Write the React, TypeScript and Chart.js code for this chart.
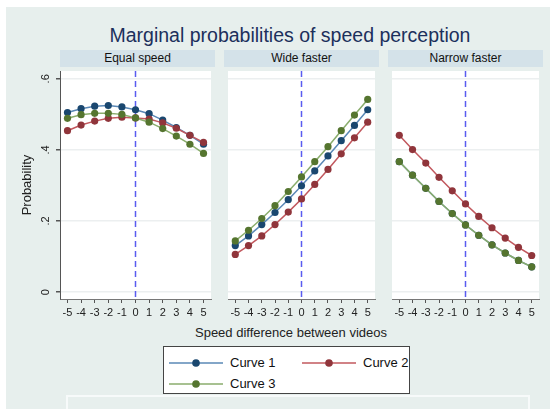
import React, { useEffect, useRef } from "react";
import { Chart, registerables } from "chart.js";

Chart.register(...registerables);

// ---------------- data ----------------
const xValues = [-5, -4, -3, -2, -1, 0, 1, 2, 3, 4, 5];
const xTickLabels = ["-5", "-4", "-3", "-2", "-1", "0", "1", "2", "3", "4", "5"];
const yTickValues = [0, 0.2, 0.4, 0.6];
const yTickLabels = ["0", ".2", ".4", ".6"];
const panelTitles = ["Equal speed", "Wide faster", "Narrow faster"];
const seriesNames = ["Curve 1", "Curve 2", "Curve 3"];

const equalCurve1 = [0.505, 0.516, 0.523, 0.525, 0.521, 0.513, 0.502, 0.484, 0.463, 0.441, 0.416];
const equalCurve2 = [0.454, 0.47, 0.481, 0.489, 0.492, 0.49, 0.487, 0.476, 0.461, 0.441, 0.421];
const equalCurve3 = [0.489, 0.499, 0.503, 0.503, 0.5, 0.49, 0.478, 0.46, 0.439, 0.416, 0.39];

const wideCurve1 = [0.131, 0.158, 0.19, 0.224, 0.26, 0.299, 0.341, 0.383, 0.426, 0.469, 0.513];
const wideCurve2 = [0.106, 0.131, 0.158, 0.19, 0.225, 0.262, 0.303, 0.345, 0.389, 0.434, 0.478];
const wideCurve3 = [0.144, 0.174, 0.207, 0.243, 0.283, 0.324, 0.367, 0.409, 0.454, 0.498, 0.542];

const narrowCurve1 = [0.367, 0.329, 0.292, 0.255, 0.221, 0.189, 0.16, 0.133, 0.11, 0.089, 0.071];
const narrowCurve2 = [0.441, 0.401, 0.363, 0.323, 0.285, 0.248, 0.213, 0.181, 0.152, 0.126, 0.103];
const narrowCurve3 = [0.367, 0.329, 0.292, 0.255, 0.221, 0.189, 0.16, 0.133, 0.11, 0.089, 0.071];

const panelSeries = [
  [equalCurve1, equalCurve2, equalCurve3],
  [wideCurve1, wideCurve2, wideCurve3],
  [narrowCurve1, narrowCurve2, narrowCurve3],
];

// ---------------- styles ----------------
const FONT = '"Liberation Sans", Arial, Helvetica, sans-serif';
const BG = "#e7efed";
const HEADER_BG = "#d4e2e9";
const markerColors = ["#1a476f", "#90353b", "#55752f"];
const lineColors = ["#5a88b6", "#c2585e", "#8aad6c"];
const REF_LINE = "#5a5cf0";

const PLOT_TOP = 67;
const PLOT_BOTTOM = 299;
const PLOT_W = 155;
const XAXIS_H = 24;
const panelLefts = [60, 224, 388];
const X_MIN = -5.55;
const X_MAX = 5.55;
const Y_MIN = -0.0194;
const Y_MAX = 0.622;

const zeroPadding = (s: any) => {
  s.paddingTop = 0;
  s.paddingBottom = 0;
  s.paddingLeft = 0;
  s.paddingRight = 0;
};

const panelPlugin = {
  id: "panelDecor",
  beforeDraw(chart: any) {
    const { ctx, chartArea } = chart;
    ctx.save();
    ctx.fillStyle = "#ffffff";
    ctx.fillRect(chartArea.left, chartArea.top, chartArea.right - chartArea.left, chartArea.bottom - chartArea.top);
    ctx.restore();
  },
  beforeDatasetsDraw(chart: any) {
    const { ctx, chartArea, scales } = chart;
    const x = scales.x.getPixelForValue(0);
    ctx.save();
    ctx.strokeStyle = REF_LINE;
    ctx.lineWidth = 1.5;
    ctx.setLineDash([6, 4]);
    ctx.beginPath();
    ctx.moveTo(x, chartArea.top);
    ctx.lineTo(x, chartArea.bottom);
    ctx.stroke();
    ctx.restore();
  },
};

function Panel({ index }: { index: number }) {
  const ref = useRef<HTMLCanvasElement | null>(null);
  const showY = index === 0;
  const plotLeft = panelLefts[index];
  const canvasLeft = showY ? 0 : plotLeft;
  const canvasWidth = showY ? plotLeft + PLOT_W : PLOT_W;
  const canvasHeight = PLOT_BOTTOM - PLOT_TOP + XAXIS_H;

  useEffect(() => {
    if (!ref.current) return;
    const series = panelSeries[index];
    const chart = new Chart(ref.current, {
      type: "line",
      data: {
        datasets: series.map((vals, i) => ({
          label: seriesNames[i],
          data: xValues.map((x, j) => ({ x, y: vals[j] })),
          borderColor: lineColors[i],
          backgroundColor: markerColors[i],
          borderWidth: 1.5,
          pointRadius: 3.6,
          pointBackgroundColor: markerColors[i],
          pointBorderColor: markerColors[i],
          pointBorderWidth: 0,
          tension: 0,
          fill: false,
          clip: false,
          order: 2 - i,
        })),
      },
      options: {
        animation: false,
        responsive: false,
        devicePixelRatio: 1,
        layout: { padding: 0 },
        plugins: {
          legend: { display: false },
          tooltip: { enabled: false },
          title: { display: false },
        },
        scales: {
          x: {
            type: "linear",
            min: X_MIN,
            max: X_MAX,
            afterBuildTicks: (s: any) => {
              s.ticks = xValues.map((v) => ({ value: v }));
            },
            afterFit: (s: any) => {
              s.height = XAXIS_H;
              zeroPadding(s);
            },
            ticks: {
              autoSkip: false,
              maxRotation: 0,
              minRotation: 0,
              padding: 3,
              color: "#222",
              font: { family: FONT, size: 11 },
              callback: (_v: any, i: number) => xTickLabels[i],
            },
            grid: {
              display: true,
              drawOnChartArea: false,
              drawTicks: true,
              tickLength: 4,
              tickColor: "#555",
              color: "#555",
            },
            border: { display: true, color: "#777", width: 1 },
          },
          y: {
            type: "linear",
            min: Y_MIN,
            max: Y_MAX,
            afterBuildTicks: (s: any) => {
              s.ticks = yTickValues.map((v) => ({ value: v }));
            },
            afterFit: (s: any) => {
              s.width = showY ? plotLeft : 0;
              zeroPadding(s);
            },
            ticks: {
              display: showY,
              minRotation: 90,
              maxRotation: 90,
              crossAlign: "center",
              padding: 5,
              color: "#222",
              font: { family: FONT, size: 11 },
              callback: (_v: any, i: number) => yTickLabels[i],
            },
            grid: {
              color: "#eceff0",
              lineWidth: 1.5,
              drawTicks: showY,
              tickLength: 4,
              tickColor: "#555",
            },
            border: { display: showY, color: "#555", width: 1 },
            title: {
              display: showY,
              text: "Probability",
              color: "#222",
              font: { family: FONT, size: 13 },
              padding: { top: 20, bottom: 0 },
            },
          },
        },
      },
      plugins: [panelPlugin],
    } as any);
    return () => chart.destroy();
  }, [index]);

  return (
    <canvas
      ref={ref}
      width={canvasWidth}
      height={canvasHeight}
      style={{ position: "absolute", left: canvasLeft, top: PLOT_TOP, width: canvasWidth, height: canvasHeight }}
    />
  );
}

function LegendKey({ color, marker }: { color: string; marker: string }) {
  return (
    <svg width={54} height={10} style={{ position: "absolute", left: 0, top: -5 }}>
      <line x1={0} y1={5} x2={54} y2={5} stroke={color} strokeWidth={1.5} />
      <circle cx={27} cy={5} r={3.8} fill={marker} />
    </svg>
  );
}

export default function App() {
  const legendItems = [
    { left: 5, top: 16 },
    { left: 138, top: 16 },
    { left: 5, top: 37 },
  ];
  return (
    <div
      style={{
        position: "fixed",
        left: 0,
        top: 0,
        width: 556,
        height: 409,
        background: "#ffffff",
        overflow: "hidden",
        fontFamily: FONT,
      }}
    >
      <div style={{ position: "absolute", left: 6, top: 7, width: 544, height: 402, background: BG }} />
      <div
        style={{
          position: "absolute",
          left: 40,
          width: 500,
          top: 25,
          lineHeight: "20px",
          fontSize: 19.5,
          textAlign: "center",
          color: "#1c305c",
          whiteSpace: "nowrap",
        }}
      >
        Marginal probabilities of speed perception
      </div>
      {panelTitles.map((t, i) => (
        <div
          key={t}
          style={{
            position: "absolute",
            left: panelLefts[i],
            top: 50,
            width: PLOT_W,
            height: 17,
            background: HEADER_BG,
            color: "#111",
            fontSize: 12,
            lineHeight: "17px",
            textAlign: "center",
          }}
        >
          {t}
        </div>
      ))}
      {[0, 1, 2].map((i) => (
        <Panel key={i} index={i} />
      ))}
      <div
        style={{
          position: "absolute",
          left: 141,
          width: 300,
          top: 325,
          lineHeight: "16px",
          fontSize: 13,
          textAlign: "center",
          color: "#222",
          whiteSpace: "nowrap",
        }}
      >
        Speed difference between videos
      </div>
      <div
        style={{
          position: "absolute",
          left: 163,
          top: 346,
          width: 245,
          height: 46,
          background: "#ffffff",
          border: "1px solid #444",
        }}
      >
        {legendItems.map((p, i) => (
          <div key={i} style={{ position: "absolute", left: p.left, top: p.top }}>
            <LegendKey color={lineColors[i]} marker={markerColors[i]} />
            <span
              style={{
                position: "absolute",
                left: 61,
                top: -8,
                fontSize: 13,
                lineHeight: "16px",
                color: "#111",
                whiteSpace: "nowrap",
              }}
            >
              {seriesNames[i]}
            </span>
          </div>
        ))}
      </div>
      <div
        style={{
          position: "absolute",
          left: 66,
          top: 395,
          width: 460,
          height: 30,
          border: "2px solid #f7fafa",
          background: BG,
        }}
      />
    </div>
  );
}
